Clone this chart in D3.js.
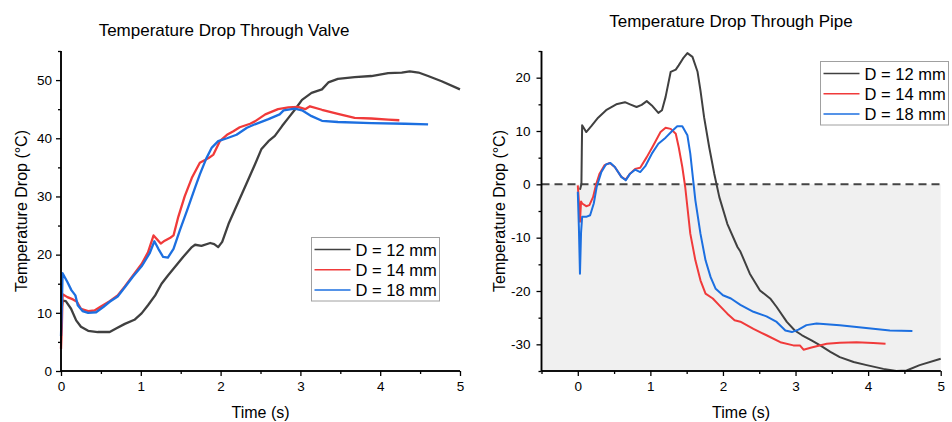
<!DOCTYPE html>
<html><head><meta charset="utf-8">
<script src="https://cdn.jsdelivr.net/npm/d3@7"></script>
<style>
body{margin:0;background:#fff;}
svg{display:block;font-family:"Liberation Sans",Arial,sans-serif;}
</style></head>
<body><svg id="c" width="952" height="422"></svg>
<script>
const seriesNames = ["D = 12 mm","D = 14 mm","D = 18 mm"];
const seriesColors = ["#404040","#f03a3a","#1c6fe0"];

// Valve: [time s, drop °C]
const valve12 = [[0,9.8],[0.02,12.1],[0.06,12.0],[0.126,10.7],[0.19,8.7],[0.25,7.6],[0.34,6.9],[0.46,6.7],[0.61,6.7],[0.69,7.3],[0.8,8.1],[0.92,8.8],[1.01,9.9],[1.09,11.3],[1.18,13.0],[1.26,15.0],[1.34,16.4],[1.43,17.9],[1.53,19.6],[1.64,21.3],[1.68,21.7],[1.76,21.5],[1.87,22.0],[1.92,21.8],[1.97,21.3],[2.02,22.2],[2.1,25.3],[2.23,29.3],[2.34,32.7],[2.43,35.5],[2.51,38.1],[2.6,39.5],[2.68,40.4],[2.77,42.1],[2.85,43.5],[2.93,44.9],[3.02,46.6],[3.14,47.8],[3.27,48.4],[3.35,49.6],[3.47,50.2],[3.68,50.5],[3.89,50.7],[4.1,51.2],[4.27,51.3],[4.37,51.5],[4.48,51.3],[4.6,50.7],[4.77,49.8],[5.0,48.4]];
const valve14 = [[0,3.8],[0.01,7.5],[0.02,13.2],[0.08,12.7],[0.15,12.3],[0.2,11.9],[0.25,10.7],[0.34,10.3],[0.42,10.4],[0.5,11.1],[0.61,12.0],[0.71,13.0],[0.8,14.55],[0.9,16.4],[1.01,18.4],[1.09,20.4],[1.16,23.3],[1.2,22.7],[1.25,21.9],[1.3,22.4],[1.37,22.9],[1.41,23.3],[1.47,26.5],[1.55,30.0],[1.64,33.2],[1.74,35.8],[1.85,36.6],[1.91,37.2],[1.99,39.5],[2.08,40.6],[2.16,41.2],[2.24,41.9],[2.37,42.5],[2.43,42.9],[2.56,44.1],[2.72,45.0],[2.85,45.3],[2.97,45.4],[3.06,45.0],[3.12,45.5],[3.27,44.9],[3.47,44.2],[3.68,43.5],[3.89,43.4],[4.1,43.2],[4.24,43.1]];
const valve18 = [[0,6.0],[0.01,11.0],[0.02,16.8],[0.08,15.3],[0.13,13.9],[0.18,13.0],[0.21,11.3],[0.27,10.3],[0.34,10.0],[0.44,10.1],[0.53,11.0],[0.61,11.9],[0.71,12.8],[0.8,14.4],[0.9,16.2],[1.01,18.0],[1.11,20.2],[1.17,22.3],[1.22,21.0],[1.28,19.6],[1.34,19.5],[1.41,21.0],[1.49,24.2],[1.58,27.6],[1.68,31.5],[1.74,33.8],[1.82,36.5],[1.89,38.4],[1.97,39.5],[2.08,40.0],[2.2,40.6],[2.33,41.8],[2.43,42.4],[2.6,43.3],[2.74,44.1],[2.79,44.8],[2.93,45.1],[3.02,44.8],[3.14,43.8],[3.27,43.0],[3.47,42.8],[3.89,42.6],[4.31,42.5],[4.6,42.4]];

// Pipe: [time s, drop °C]
const pipe12 = [[0.03,-1.0],[0.05,0.0],[0.055,6.0],[0.06,11.1],[0.116,9.8],[0.186,10.9],[0.28,12.5],[0.39,13.9],[0.53,15.0],[0.65,15.4],[0.72,15.0],[0.81,14.5],[0.88,14.9],[0.95,15.6],[1.02,14.8],[1.11,13.4],[1.16,13.9],[1.21,16.4],[1.28,21.1],[1.35,21.5],[1.39,22.3],[1.45,23.6],[1.51,24.6],[1.58,23.9],[1.65,21.1],[1.69,17.6],[1.74,12.6],[1.81,7.0],[1.88,2.0],[1.95,-2.4],[2.06,-7.4],[2.2,-11.75],[2.24,-12.6],[2.37,-16.75],[2.51,-19.9],[2.65,-21.4],[2.74,-23.0],[2.88,-25.8],[2.99,-27.4],[3.09,-28.3],[3.22,-29.25],[3.34,-30.2],[3.48,-31.4],[3.61,-32.4],[3.8,-33.3],[3.98,-33.9],[4.21,-34.6],[4.39,-35.0],[4.53,-34.9],[4.71,-33.9],[5.0,-32.7]];
const pipe14 = [[0,-0.2],[0.014,-3.0],[0.03,-7.0],[0.045,-3.2],[0.06,-3.6],[0.116,-4.1],[0.16,-3.9],[0.21,-2.4],[0.255,0.1],[0.3,2.0],[0.37,3.6],[0.44,4.0],[0.51,3.25],[0.6,1.4],[0.66,0.9],[0.72,2.0],[0.79,2.9],[0.86,3.1],[0.95,5.1],[1.04,7.3],[1.14,9.8],[1.21,10.6],[1.28,10.4],[1.35,9.5],[1.39,7.0],[1.44,3.25],[1.48,-0.5],[1.51,-4.25],[1.55,-9.25],[1.62,-14.25],[1.69,-18.0],[1.76,-20.5],[1.86,-21.4],[1.95,-22.7],[2.06,-24.25],[2.16,-25.5],[2.24,-25.75],[2.42,-27.1],[2.6,-28.3],[2.79,-29.6],[2.97,-30.2],[3.06,-30.2],[3.11,-31.0],[3.22,-30.6],[3.43,-29.9],[3.61,-29.7],[3.84,-29.6],[4.07,-29.75],[4.24,-29.9]];
const pipe18 = [[0,-1.4],[0.015,-8.0],[0.03,-16.75],[0.045,-9.0],[0.06,-6.1],[0.116,-6.1],[0.17,-5.8],[0.22,-3.6],[0.26,-0.5],[0.325,2.3],[0.39,3.75],[0.45,4.0],[0.51,3.25],[0.6,1.4],[0.66,0.75],[0.72,2.0],[0.79,2.75],[0.86,2.3],[0.93,3.4],[1.02,5.75],[1.11,7.6],[1.21,8.75],[1.3,10.0],[1.37,10.9],[1.44,10.9],[1.51,9.2],[1.55,5.75],[1.59,0.75],[1.62,-3.0],[1.69,-9.25],[1.76,-14.25],[1.83,-17.4],[1.9,-19.6],[2.0,-20.8],[2.11,-21.4],[2.24,-22.6],[2.42,-23.9],[2.6,-24.75],[2.74,-25.8],[2.86,-27.4],[2.95,-27.7],[3.04,-27.25],[3.15,-26.4],[3.29,-26.1],[3.61,-26.4],[3.84,-26.75],[4.07,-27.1],[4.3,-27.4],[4.61,-27.5]];

const valveXTicks = [0,1,2,3,4,5];
const valveYTicks = [0,10,20,30,40,50];
const pipeXTicks = [0,1,2,3,4,5];
const pipeYTicks = [-30,-20,-10,0,10,20];

const svg = d3.select("#c");

function panel(o){
  const g = svg.append("g");
  const x = d3.scaleLinear().domain(o.xDomain).range([o.x0,o.x1]);
  const y = d3.scaleLinear().domain(o.yDomain).range([o.y0,o.y1]);
  if(o.shade){
    g.append("rect").attr("x",x(o.xDomain[0])).attr("y",y(0))
      .attr("width",x(o.xDomain[1])-x(o.xDomain[0])).attr("height",y(o.yDomain[0])-y(0))
      .attr("fill","#f0f0f0");
    g.append("line").attr("x1",x(o.xDomain[0])).attr("x2",x(o.xDomain[1]))
      .attr("y1",y(0)).attr("y2",y(0))
      .attr("stroke","#444").attr("stroke-width",2).attr("stroke-dasharray","8,5");
  }
  const line = d3.line().x(d=>x(d[0])).y(d=>y(d[1]));
  o.series.forEach((s,i)=>{
    g.append("path").datum(s).attr("d",line).attr("fill","none")
      .attr("stroke",seriesColors[i]).attr("stroke-width",o.lw).attr("stroke-linejoin","round");
  });
  const xMinor = d3.range(o.xDomain[0],o.xDomain[1]+0.001,0.5).filter(v=>!o.xTicks.includes(v));
  const yMinor = d3.range(o.yDomain[0],o.yDomain[1]+0.001,5).filter(v=>!o.yTicks.includes(v));
  const xa = g.append("g").attr("transform",`translate(0,${o.y0})`)
    .call(d3.axisBottom(x).tickValues(xMinor).tickSize(3).tickFormat(""));
  const xb = g.append("g").attr("transform",`translate(0,${o.y0})`)
    .call(d3.axisBottom(x).tickValues(o.xTicks).tickSize(5).tickPadding(5).tickFormat(d3.format("d")));
  const ya = g.append("g").attr("transform",`translate(${o.x0},0)`)
    .call(d3.axisLeft(y).tickValues(yMinor).tickSize(3).tickFormat(""));
  const yb = g.append("g").attr("transform",`translate(${o.x0},0)`)
    .call(d3.axisLeft(y).tickValues(o.yTicks).tickSize(5).tickPadding(o.yPad).tickFormat(d=>d<0?"-"+Math.abs(d):d));
  [xa,xb,ya,yb].forEach(a=>{
    a.select(".domain").attr("stroke","#000").attr("stroke-width",1.5);
    a.selectAll(".tick line").attr("stroke","#000").attr("stroke-width",1.3);
    a.selectAll("text").attr("font-size",13.5).attr("fill","#000").attr("font-family","'Liberation Sans',Arial,sans-serif");
  });
  xa.select(".domain").attr("d",`M${o.x0},0H${o.x1}`);
  xb.select(".domain").attr("d",`M${o.x0},0H${o.x1}`);
  ya.select(".domain").attr("d",`M0,${o.y0}V${o.y1}`);
  yb.select(".domain").attr("d",`M0,${o.y0}V${o.y1}`);

  g.append("text").attr("x",o.titleX).attr("y",o.titleY).attr("text-anchor","middle")
    .attr("font-size",17).text(o.title);
  g.append("text").attr("x",(o.x0+o.x1)/2).attr("y",418).attr("text-anchor","middle")
    .attr("font-size",16).text("Time (s)");
  g.append("text").attr("transform",`translate(${o.yLabelX},${(o.y0+o.y1)/2}) rotate(-90)`)
    .attr("text-anchor","middle").attr("font-size",16).text("Temperature Drop (°C)");

  const L = o.legend;
  g.append("rect").attr("x",L.x).attr("y",L.y).attr("width",L.w).attr("height",L.h)
    .attr("fill","#fff").attr("stroke","#a0a0a0").attr("stroke-width",1);
  seriesNames.forEach((n,i)=>{
    const cy = L.y + 12 + i*20.3;
    g.append("line").attr("x1",L.x+3).attr("x2",L.x+39).attr("y1",cy).attr("y2",cy)
      .attr("stroke",seriesColors[i]).attr("stroke-width",1.5);
    g.append("text").attr("x",L.x+44).attr("y",cy+6).attr("font-size",16.5).text(n);
  });
}

panel({xDomain:[0,5],yDomain:[0,55],x0:61,x1:460,y0:371,y1:51,lw:2.3,
  xTicks:valveXTicks,yTicks:valveYTicks,yPad:4,
  series:[valve12,valve14,valve18],shade:false,
  title:"Temperature Drop Through Valve",titleX:224,titleY:36,yLabelX:27,
  legend:{x:311.5,y:237.5,w:128,h:63.5}});

panel({xDomain:[-0.5,5],yDomain:[-35,25],x0:541.5,x1:940.7,y0:371,y1:51,lw:2,
  xTicks:pipeXTicks,yTicks:pipeYTicks,yPad:6,
  series:[pipe12,pipe14,pipe18],shade:true,
  title:"Temperature Drop Through Pipe",titleX:731,titleY:27,yLabelX:505,
  legend:{x:820.5,y:61.5,w:128,h:63.5}});
</script></body></html>
